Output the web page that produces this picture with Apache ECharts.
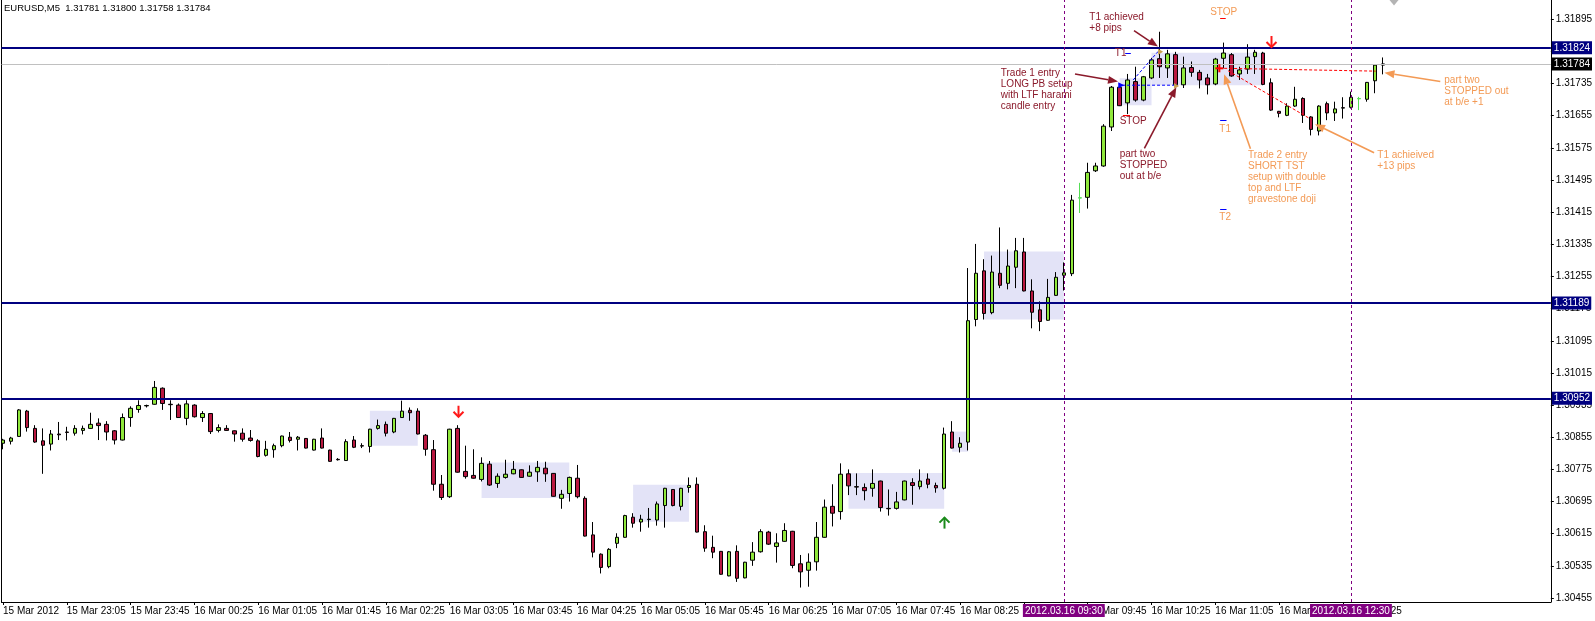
<!DOCTYPE html>
<html><head><meta charset="utf-8">
<script src="https://cdn.jsdelivr.net/npm/echarts@6/dist/echarts.min.js"></script>
<style>html,body{margin:0;padding:0;background:#fff}#c{width:1595px;height:621px}</style>
</head><body><div id="c"></div>
<script>
// ---------- data ----------
const symbolTitle = 'EURUSD,M5';
const headerValues = ['1.31781', '1.31800', '1.31758', '1.31784'];

const openP = [
1.30840,1.30845,1.30857,1.30920,1.30877,1.30846,1.30838,1.30863,1.30868,1.30865,
1.30872,1.30877,1.30890,1.30887,1.30871,1.30848,1.30904,1.30924,1.30933,1.30937,
1.30977,1.30937,1.30935,1.30902,1.30935,1.30904,1.30914,1.30872,1.30877,1.30871,
1.30865,1.30853,1.30846,1.30810,1.30824,1.30834,1.30855,1.30850,1.30852,1.30823,
1.30853,1.30823,1.30800,1.30797,1.30848,1.30834,1.30832,1.30877,1.30887,1.30868,
1.30904,1.30922,1.30920,1.30860,1.30824,1.30738,1.30707,1.30877,1.30770,1.30760,
1.30750,1.30788,1.30740,1.30755,1.30764,1.30774,1.30758,1.30769,1.30778,1.30765,
1.30703,1.30715,1.30753,1.30703,1.30612,1.30564,1.30533,1.30591,1.30606,1.30656,
1.30644,1.30650,1.30649,1.30685,1.30725,1.30683,1.30730,1.30738,1.30620,1.30581,
1.30571,1.30510,1.30571,1.30505,1.30549,1.30570,1.30619,1.30583,1.30596,1.30621,
1.30540,1.30524,1.30545,1.30606,1.30683,1.30670,1.30764,1.30732,1.30730,1.30728,
1.30746,1.30678,1.30678,1.30699,1.30742,1.30732,1.30751,1.30735,1.30728,1.30868,
1.30830,1.30843,1.31148,1.31269,1.31165,1.31263,1.31238,1.31278,1.31316,1.31219,
1.31172,1.31146,1.31208,1.31258,1.31262,1.31450,1.31452,1.31518,1.31530,1.31627,
1.31726,1.31687,1.31740,1.31694,1.31749,1.31797,1.31774,1.31807,1.31732,1.31775,
1.31763,1.31749,1.31734,1.31798,1.31807,1.31759,1.31771,1.31802,1.31811,1.31737,
1.31666,1.31656,1.31679,1.31698,1.31652,1.31617,1.31685,1.31662,1.31675,1.31676,
1.31697,1.31696,1.31742,1.31781];
const highP = [
1.30851,1.30856,1.30925,1.30923,1.30885,1.30877,1.30873,1.30893,1.30881,1.30885,
1.30884,1.30916,1.30902,1.30895,1.30873,1.30914,1.30932,1.30947,1.30936,1.30995,
1.30979,1.30947,1.30939,1.30947,1.30937,1.30920,1.30915,1.30887,1.30885,1.30872,
1.30877,1.30873,1.30850,1.30846,1.30839,1.30859,1.30868,1.30858,1.30853,1.30851,
1.30877,1.30824,1.30803,1.30850,1.30858,1.30840,1.30876,1.30899,1.30894,1.30903,
1.30946,1.30929,1.30927,1.30863,1.30848,1.30761,1.30876,1.30885,1.30834,1.30825,
1.30805,1.30796,1.30765,1.30799,1.30796,1.30775,1.30785,1.30796,1.30794,1.30766,
1.30724,1.30757,1.30786,1.30708,1.30644,1.30566,1.30579,1.30616,1.30662,1.30666,
1.30662,1.30679,1.30695,1.30729,1.30726,1.30729,1.30755,1.30755,1.30636,1.30610,
1.30572,1.30572,1.30586,1.30545,1.30594,1.30626,1.30622,1.30616,1.30641,1.30622,
1.30562,1.30566,1.30644,1.30700,1.30738,1.30790,1.30775,1.30765,1.30740,1.30775,
1.30747,1.30725,1.30719,1.30747,1.30753,1.30775,1.30765,1.30742,1.30879,1.30895,
1.30855,1.31276,1.31336,1.31298,1.31307,1.31377,1.31322,1.31351,1.31351,1.31248,
1.31193,1.31249,1.31266,1.31290,1.31458,1.31488,1.31538,1.31538,1.31634,1.31729,
1.31729,1.31759,1.31777,1.31754,1.31799,1.31864,1.31819,1.31814,1.31802,1.31790,
1.31769,1.31759,1.31799,1.31837,1.31811,1.31777,1.31833,1.31819,1.31814,1.31748,
1.31667,1.31686,1.31727,1.31701,1.31654,1.31681,1.31690,1.31690,1.31701,1.31715,
1.31702,1.31739,1.31783,1.31800];
const lowP = [
1.30825,1.30837,1.30856,1.30869,1.30841,1.30764,1.30822,1.30848,1.30847,1.30859,
1.30862,1.30876,1.30848,1.30847,1.30837,1.30847,1.30881,1.30916,1.30929,1.30936,
1.30923,1.30898,1.30903,1.30885,1.30904,1.30893,1.30863,1.30867,1.30871,1.30844,
1.30844,1.30844,1.30805,1.30807,1.30804,1.30830,1.30842,1.30822,1.30827,1.30822,
1.30827,1.30794,1.30797,1.30796,1.30828,1.30828,1.30817,1.30874,1.30857,1.30865,
1.30903,1.30896,1.30862,1.30809,1.30722,1.30699,1.30704,1.30767,1.30752,1.30752,
1.30745,1.30734,1.30729,1.30752,1.30763,1.30754,1.30757,1.30744,1.30744,1.30707,
1.30677,1.30695,1.30703,1.30608,1.30556,1.30516,1.30529,1.30579,1.30605,1.30630,
1.30620,1.30630,1.30635,1.30630,1.30683,1.30673,1.30717,1.30618,1.30570,1.30554,
1.30513,1.30509,1.30495,1.30504,1.30535,1.30568,1.30587,1.30543,1.30595,1.30529,
1.30481,1.30483,1.30523,1.30605,1.30633,1.30650,1.30711,1.30711,1.30698,1.30707,
1.30670,1.30660,1.30675,1.30698,1.30687,1.30725,1.30728,1.30717,1.30725,1.30827,
1.30817,1.30822,1.31131,1.31148,1.31161,1.31226,1.31223,1.31226,1.31218,1.31126,
1.31119,1.31145,1.31207,1.31220,1.31256,1.31413,1.31424,1.31515,1.31528,1.31617,
1.31679,1.31659,1.31690,1.31691,1.31746,1.31749,1.31749,1.31727,1.31724,1.31752,
1.31723,1.31708,1.31731,1.31773,1.31752,1.31744,1.31759,1.31759,1.31731,1.31667,
1.31651,1.31654,1.31677,1.31637,1.31606,1.31606,1.31644,1.31642,1.31648,1.31673,
1.31669,1.31690,1.31711,1.31758];
const closeP = [
1.30848,1.30853,1.30923,1.30879,1.30843,1.30835,1.30863,1.30861,1.30867,1.30877,
1.30877,1.30887,1.30884,1.30868,1.30848,1.30904,1.30927,1.30934,1.30934,1.30979,
1.30939,1.30936,1.30904,1.30938,1.30906,1.30914,1.30869,1.30879,1.30872,1.30863,
1.30850,1.30847,1.30807,1.30825,1.30834,1.30858,1.30847,1.30855,1.30828,1.30850,
1.30828,1.30795,1.30799,1.30844,1.30830,1.30833,1.30875,1.30884,1.30865,1.30902,
1.30920,1.30916,1.30863,1.30825,1.30738,1.30705,1.30875,1.30768,1.30757,1.30753,
1.30790,1.30736,1.30758,1.30763,1.30775,1.30755,1.30768,1.30780,1.30764,1.30708,
1.30713,1.30755,1.30707,1.30609,1.30569,1.30531,1.30576,1.30606,1.30660,1.30641,
1.30651,1.30651,1.30689,1.30728,1.30685,1.30728,1.30735,1.30619,1.30579,1.30569,
1.30514,1.30570,1.30504,1.30544,1.30569,1.30620,1.30589,1.30592,1.30623,1.30536,
1.30520,1.30544,1.30606,1.30681,1.30666,1.30763,1.30734,1.30731,1.30722,1.30740,
1.30680,1.30677,1.30694,1.30746,1.30735,1.30746,1.30738,1.30729,1.30863,1.30828,
1.30840,1.31145,1.31263,1.31163,1.31266,1.31233,1.31281,1.31319,1.31219,1.31166,
1.31143,1.31203,1.31253,1.31264,1.31445,1.31451,1.31514,1.31530,1.31629,1.31726,
1.31680,1.31744,1.31694,1.31752,1.31794,1.31777,1.31809,1.31732,1.31774,1.31763,
1.31744,1.31732,1.31796,1.31811,1.31754,1.31769,1.31801,1.31813,1.31733,1.31669,
1.31661,1.31679,1.31696,1.31656,1.31621,1.31679,1.31662,1.31672,1.31674,1.31701,
1.31698,1.31738,1.31781,1.31784];
const specialBars = [135, 170];   // bars drawn in light green

const timeTickBars = [0,8,16,24,32,40,48,56,64,72,80,88,96,104,112,120,128,136,144,152,160,168];
const timeTickLabels = ['15 Mar 2012','15 Mar 23:05','15 Mar 23:45','16 Mar 00:25','16 Mar 01:05','16 Mar 01:45',
 '16 Mar 02:25','16 Mar 03:05','16 Mar 03:45','16 Mar 04:25','16 Mar 05:05','16 Mar 05:45','16 Mar 06:25',
 '16 Mar 07:05','16 Mar 07:45','16 Mar 08:25','16 Mar 09:05','16 Mar 09:45','16 Mar 10:25','16 Mar 11:05',
 '16 Mar 11:45','16 Mar 12:25'];
const priceTicks = [1.30455,1.30535,1.30615,1.30695,1.30775,1.30855,1.30935,1.31015,1.31095,1.31175,
 1.31255,1.31335,1.31415,1.31495,1.31575,1.31655,1.31735,1.31815,1.31895];

const levelLines = [1.31824, 1.31189, 1.30952];
const bidPrice = 1.31784;
const vLineBars = [133, 169];
const vLineLabels = ['2012.03.16 09:30', '2012.03.16 12:30'];

// shaded zones: [bar from, bar to, price top, price bottom]
const zones = [
 [46,52,1.30921,1.30834],[60,71,1.30792,1.30704],[79,86,1.30737,1.30645],
 [106,118,1.30766,1.30677],[119,121,1.30869,1.30819],[123,133,1.31317,1.31148],
 [140,144,1.31748,1.31681],[144,158,1.31812,1.31731]];

const arrowMarks = [[57,1.30906,'down'],[159,1.31826,'down'],[118,1.30655,'up']];

// notes: [bar, price(top), text, colour]
const notes = [
 [136.2,1.31915,'T1 achieved\n+8 pips','m'],
 [125.1,1.31775,'Trade 1 entry\nLONG PB setup\nwith LTF harami\ncandle entry','m'],
 [140.0,1.31654,'STOP','m'],
 [139.4,1.31825,'T1','m'],
 [140.0,1.31574,'part two\nSTOPPED\nout at b/e','m'],
 [151.35,1.31926,'STOP','o'],
 [152.5,1.31636,'T1','o'],
 [152.5,1.31417,'T2','o'],
 [156.1,1.31571,'Trade 2 entry\nSHORT TST\nsetup with double\ntop and LTF\ngravestone doji','o'],
 [172.3,1.31570,'T1 achieived\n+13 pips','o'],
 [180.7,1.31758,'part two\nSTOPPED out\nat b/e +1','o']];

// pointer arrows: [bar1, price1, bar2, price2 (head), colour]
const pointers = [
 [141.8,1.31867,144.8,1.31827,'m'],[134.4,1.31759,139.8,1.31740,'m'],[143.1,1.31574,147.1,1.31726,'m'],
 [156.4,1.31573,153.1,1.31758,'o'],[171.9,1.31563,164.5,1.31634,'o'],[180.2,1.31740,173.2,1.31762,'o']];

// dashed trade lines: [bar1, price1, bar2, price2, colour]
const tradeLines = [
 [153.1,1.31773,172.1,1.31766,'r'],[153.6,1.31767,164.0,1.31646,'r'],
 [140.3,1.31731,147.3,1.31731,'b'],[141.7,1.31744,145.0,1.31819,'b']];

// short level dashes: [bar1, bar2, price, colour]
const levelDashes = [
 [140.4,141.3,1.31656,'r'],[140.7,141.4,1.31812,'b'],
 [152.6,153.3,1.31898,'r'],[152.6,153.4,1.31644,'b'],[152.6,153.4,1.31422,'b']];

// small trade markers: [bar, price, kind]
const tradeMarks = [[152.5,1.31773,'plus'],[145.2,1.31814,'tan'],[147.2,1.31729,'tan'],[140.2,1.31731,'blue'],[174.4,1.31937,'shift']];

// ---------- chart ----------
const COL = {m:'#8b1a2b', o:'#f39a55', r:'#ff0000', b:'#0000ff'};
const FONT = '"Liberation Sans", Arial, sans-serif';
const LG = '#55dd55';

const candleData = openP.map((o, i) => {
  const v = [i, o, closeP[i], lowP[i], highP[i]];
  if (specialBars.indexOf(i) >= 0) {
    return {value: v, itemStyle: {color: LG, color0: LG, borderColor: LG, borderColor0: LG, borderColorDoji: LG}};
  }
  return v;
});

const chart = echarts.init(document.getElementById('c'), null, {renderer: 'canvas'});

const boxLabel = (txt, bg, pos, dist) => ({
  show: true, position: pos, distance: dist, formatter: txt, backgroundColor: bg,
  color: '#fff', padding: [1, 2, 0, 2], fontSize: 10, fontFamily: FONT, lineHeight: 12
});
const lineMarks = levelLines.map(v => ({
  yAxis: v,
  lineStyle: {color: '#000080', width: 2, type: 'solid'},
  label: boxLabel(v.toFixed(5), '#000080', 'end', 1)
}));
lineMarks.unshift({
  yAxis: bidPrice,
  lineStyle: {color: '#c0c0c0', width: 1, type: 'solid'},
  label: boxLabel(bidPrice.toFixed(5), '#000', 'end', 1)
});
vLineBars.forEach((k, i) => lineMarks.push({
  xAxis: k,
  lineStyle: {color: '#800080', width: 1, type: [3, 3]},
  label: boxLabel(vLineLabels[i], '#800080', 'start', 2)
}));

const option = {
  animation: false,
  backgroundColor: '#fff',
  title: {
    text: symbolTitle + '  ' + headerValues.join(' '),
    left: 4, top: 3, padding: 0,
    textStyle: {fontSize: 9.5, fontWeight: 'normal', color: '#000', fontFamily: FONT}
  },
  grid: {left: 0, right: 41, top: 0, bottom: 19, containLabel: false},
  xAxis: {
    type: 'value', min: -0.1875, max: 194.0625,
    axisLine: {show: true, onZero: false, lineStyle: {color: '#000', width: 1}},
    axisTick: {show: true, length: 3, lineStyle: {color: '#000'}, customValues: timeTickBars},
    axisLabel: {
      show: true, customValues: timeTickBars, align: 'left', margin: 4,
      fontSize: 10, color: '#000', fontFamily: FONT,
      formatter: v => timeTickLabels[timeTickBars.indexOf(Math.round(v))] || ''
    },
    splitLine: {show: false}
  },
  yAxis: [{
    type: 'value', position: 'right', min: 1.30445, max: 1.31943,
    axisLine: {show: true, onZero: false, lineStyle: {color: '#000', width: 1}},
    axisTick: {show: true, length: 3, lineStyle: {color: '#000'}, customValues: priceTicks},
    axisLabel: {show: true, customValues: priceTicks, margin: 5, fontSize: 10, color: '#000', fontFamily: FONT,
                formatter: v => v.toFixed(5)},
    splitLine: {show: false}
  }, {
    type: 'value', position: 'left', min: 0, max: 1,
    axisLine: {show: true, onZero: false, lineStyle: {color: '#000', width: 1}},
    axisTick: {show: false}, axisLabel: {show: false}, splitLine: {show: false}
  }],
  series: [
    {
      type: 'candlestick', yAxisIndex: 0, data: candleData, barWidth: 4, z: 3,
      itemStyle: {color: '#90e83c', color0: '#b81840', borderColor: '#000', borderColor0: '#000',
                  borderColorDoji: '#000', borderWidth: 1},
      markArea: {
        silent: true, z: 1,
        itemStyle: {color: '#e3e3f7'},
        data: zones.map(z => [{coord: [z[0], z[2]]}, {coord: [z[1], z[3]]}])
      },
      markLine: {silent: true, symbol: ['none', 'none'], animation: false, z: 5, precision: 6, data: lineMarks}
    },
    { // dashed trade lines
      type: 'custom', yAxisIndex: 0, z: 6, silent: true,
      data: tradeLines.map((t, i) => [t[0], t[1], i]),
      renderItem: (params, api) => {
        const t = tradeLines[api.value(2)];
        const a = api.coord([t[0], t[1]]), b = api.coord([t[2], t[3]]);
        return {type: 'line', shape: {x1: a[0], y1: a[1], x2: b[0], y2: b[1]},
                style: {stroke: COL[t[4]], lineWidth: 1, lineDash: [3, 2]}};
      }
    },
    { // short level dashes
      type: 'custom', yAxisIndex: 0, z: 6, silent: true,
      data: levelDashes.map((t, i) => [t[0], t[2], i]),
      renderItem: (params, api) => {
        const t = levelDashes[api.value(2)];
        const a = api.coord([t[0], t[2]]), b = api.coord([t[1], t[2]]);
        return {type: 'line', shape: {x1: a[0], y1: Math.round(a[1]) + 0.5, x2: b[0], y2: Math.round(a[1]) + 0.5},
                style: {stroke: COL[t[3]], lineWidth: 1}};
      }
    },
    { // pointer arrows
      type: 'custom', yAxisIndex: 0, z: 7, silent: true,
      data: pointers.map((t, i) => [t[0], t[1], i]),
      renderItem: (params, api) => {
        const t = pointers[api.value(2)];
        const a = api.coord([t[0], t[1]]), b = api.coord([t[2], t[3]]);
        const ang = Math.atan2(b[1] - a[1], b[0] - a[0]);
        const L = 10, W = 4;
        const c = Math.cos(ang), s = Math.sin(ang);
        const bx = b[0] - L * c, by = b[1] - L * s;
        return {type: 'group', children: [
          {type: 'line', shape: {x1: a[0], y1: a[1], x2: bx, y2: by}, style: {stroke: COL[t[4]], lineWidth: 1.6}},
          {type: 'polygon', shape: {points: [[b[0], b[1]], [bx - W * s, by + W * c], [bx + W * s, by - W * c]]},
           style: {fill: COL[t[4]]}}
        ]};
      }
    },
    { // up / down arrows
      type: 'custom', yAxisIndex: 0, z: 7, silent: true,
      data: arrowMarks.map((t, i) => [t[0], t[1], i]),
      renderItem: (params, api) => {
        const t = arrowMarks[api.value(2)];
        const p = api.coord([t[0], t[1]]);
        const d = t[2] === 'down' ? 1 : -1;
        const col = t[2] === 'down' ? '#ff1a1a' : '#1a8a1a';
        const x = Math.round(p[0]) + 0.5, y = p[1];
        return {type: 'group', children: [
          {type: 'line', shape: {x1: x, y1: y - d * 11, x2: x, y2: y}, style: {stroke: col, lineWidth: 2}},
          {type: 'polyline', shape: {points: [[x - 5, y - d * 5], [x, y], [x + 5, y - d * 5]]},
           style: {stroke: col, lineWidth: 2, fill: 'none'}}
        ]};
      }
    },
    { // small trade markers
      type: 'custom', yAxisIndex: 0, z: 7, silent: true,
      data: tradeMarks.map((t, i) => [t[0], t[1], i]),
      renderItem: (params, api) => {
        const t = tradeMarks[api.value(2)];
        const p = api.coord([t[0], t[1]]);
        const x = p[0], y = p[1];
        if (t[2] === 'plus') {
          return {type: 'group', children: [
            {type: 'line', shape: {x1: x - 4, y1: y, x2: x + 4, y2: y}, style: {stroke: '#ff0000', lineWidth: 2}},
            {type: 'line', shape: {x1: x, y1: y - 4, x2: x, y2: y + 4}, style: {stroke: '#ff0000', lineWidth: 2}}
          ]};
        }
        if (t[2] === 'tan') {
          return {type: 'polygon', shape: {points: [[x - 3, y - 3], [x + 2, y], [x - 3, y + 3]]}, style: {fill: '#c8a050'}};
        }
        if (t[2] === 'shift') {
          return {type: 'polygon', shape: {points: [[x - 5, y - 3], [x + 5, y - 3], [x, y + 3]]}, style: {fill: '#b4b4b4'}};
        }
        return {type: 'polygon', shape: {points: [[x - 3, y - 3], [x + 3, y], [x - 3, y + 3]]}, style: {fill: '#0000ff'}};
      }
    },
    { // text notes
      type: 'custom', yAxisIndex: 0, z: 8, silent: true,
      data: notes.map((t, i) => [t[0], t[1], i]),
      renderItem: (params, api) => {
        const t = notes[api.value(2)];
        const p = api.coord([t[0], t[1]]);
        return {type: 'text', x: p[0], y: p[1], style: {
          text: t[2], fill: COL[t[3]], fontSize: 10, fontFamily: FONT, lineHeight: 11,
          align: 'left', verticalAlign: 'top'}};
      }
    }
  ]
};
chart.setOption(option);
</script>
</body></html>
